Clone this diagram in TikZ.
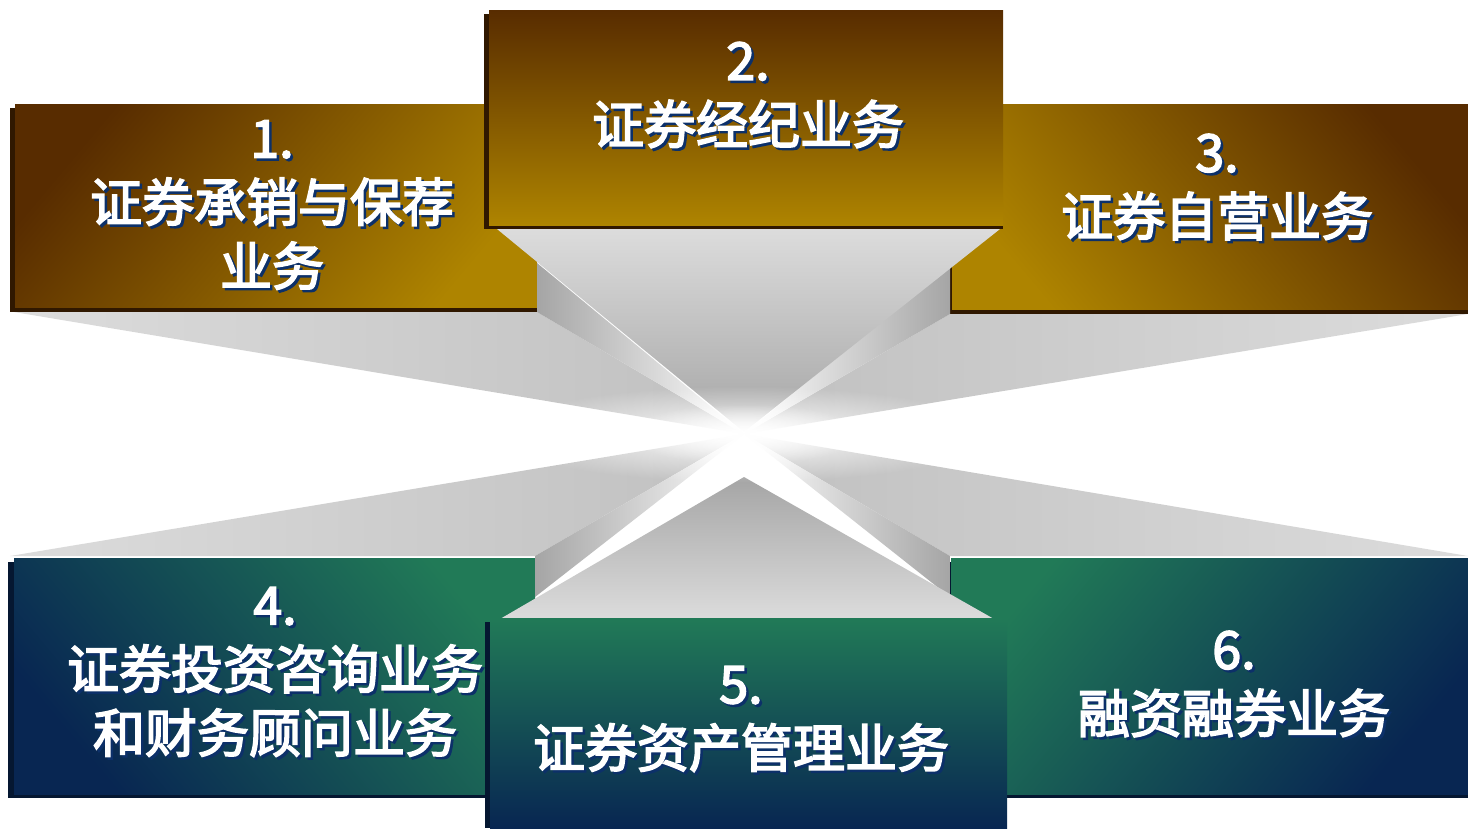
\documentclass[tikz,border=0pt]{standalone}
\usepackage{fontspec}
\newfontfamily\cjk[AutoFakeBold=3.2]{Noto Sans CJK SC}
\usetikzlibrary{fadings,shadings}
\definecolor{brdark}{RGB}{88,44,0}
\definecolor{gold}{RGB}{174,132,0}
\definecolor{grn}{RGB}{33,122,87}
\definecolor{navy}{RGB}{8,38,82}
\definecolor{shad}{RGB}{12,48,105}
\definecolor{gl}{RGB}{220,220,220}
\definecolor{gm}{RGB}{192,192,192}
\definecolor{gd}{RGB}{165,165,165}
\tikzfading[name=glowfade, inner color=transparent!0, outer color=transparent!100]
\tikzset{
  lbl/.style={font=\cjk\bfseries\fontsize{52}{64}\selectfont, text=white, align=center, inner sep=0pt},
  lblsh/.style={lbl, text=shad},
  topedge/.style={fill=brdark!55!black},
  botedge/.style={fill=navy!60!black},
}
\newcommand\shtext[4]{\node[lblsh] at (#2+2.5,#3+2.5) {#4};\node[lbl] (#1) at (#2,#3) {#4};}
\begin{document}
\begin{tikzpicture}[x=1pt,y=-1pt]
\useasboundingbox (0,0) rectangle (1468,828);
\coordinate (C) at (744,434);
% ---------- side boxes (behind) ----------
% box 1
\fill[topedge] (10,108) rectangle (537,312);
\shade[shading=axis, top color=brdark, bottom color=gold, shading angle=50] (15,104) rectangle (537,307);
% box 3
\fill[topedge] (948,108) rectangle (1468,314);
\shade[shading=axis, top color=brdark, bottom color=gold, shading angle=-50] (952,104) rectangle (1468,309);
% box 4
\fill[botedge] (8,562) rectangle (535,798);
\shade[shading=axis, top color=grn, bottom color=navy, shading angle=-50] (14,558) rectangle (535,794);
% box 6
\fill[botedge] (946,562) rectangle (1468,798);
\shade[shading=axis, top color=grn, bottom color=navy, shading angle=50] (951,558) rectangle (1468,794);
% ---------- grey funnels ----------
\shade[left color=gl, right color=gm] (14,312) -- (537,312) -- (C) -- cycle;
\shade[left color=gd, right color=white] (537,263) -- (537,312) -- (C) -- cycle;
\shade[left color=gm, right color=gl] (1468,314) -- (950,314) -- (C) -- cycle;
\shade[left color=white, right color=gd] (950,263) -- (950,314) -- (C) -- cycle;
\shade[left color=gl, right color=gm] (10,556) -- (535,556) -- (C) -- cycle;
\shade[left color=gd, right color=white] (535,556) -- (535,597) -- (C) -- cycle;
\shade[left color=gm, right color=gl] (1468,556) -- (950,556) -- (C) -- cycle;
\shade[left color=white, right color=gd] (950,556) -- (950,597) -- (C) -- cycle;
\shade[top color=gl, bottom color=gd] (497,229) -- (1000,229) -- (744,432) -- cycle;
\shade[top color=gd, bottom color=gl] (744,477) -- (994,619) -- (500,619) -- cycle;
% central glow
\fill[white, path fading=glowfade] (C) ellipse [x radius=250pt, y radius=48pt];
\fill[white, path fading=glowfade] (C) ellipse [x radius=120pt, y radius=30pt];
% ---------- front boxes ----------
% box 2
\fill[topedge] (484,14) rectangle (1003,229);
\shade[top color=brdark, bottom color=gold] (489,10) rectangle (1003,225);
% box 5
\fill[botedge] (485,622) rectangle (1007,828);
\shade[top color=grn, bottom color=navy] (490,618) rectangle (1007,828);
% ---------- labels ----------
\shtext{t1}{272}{205}{1.\\证券承销与保荐\\业务}
\shtext{t2}{748}{95}{2.\\证券经纪业务}
\shtext{t3}{1217}{187}{3.\\证券自营业务}
\shtext{t4}{275}{672}{4.\\证券投资咨询业务\\和财务顾问业务}
\shtext{t5}{741}{719}{5.\\证券资产管理业务}
\shtext{t6}{1234}{684}{6.\\融资融券业务}
\end{tikzpicture}
\end{document}
